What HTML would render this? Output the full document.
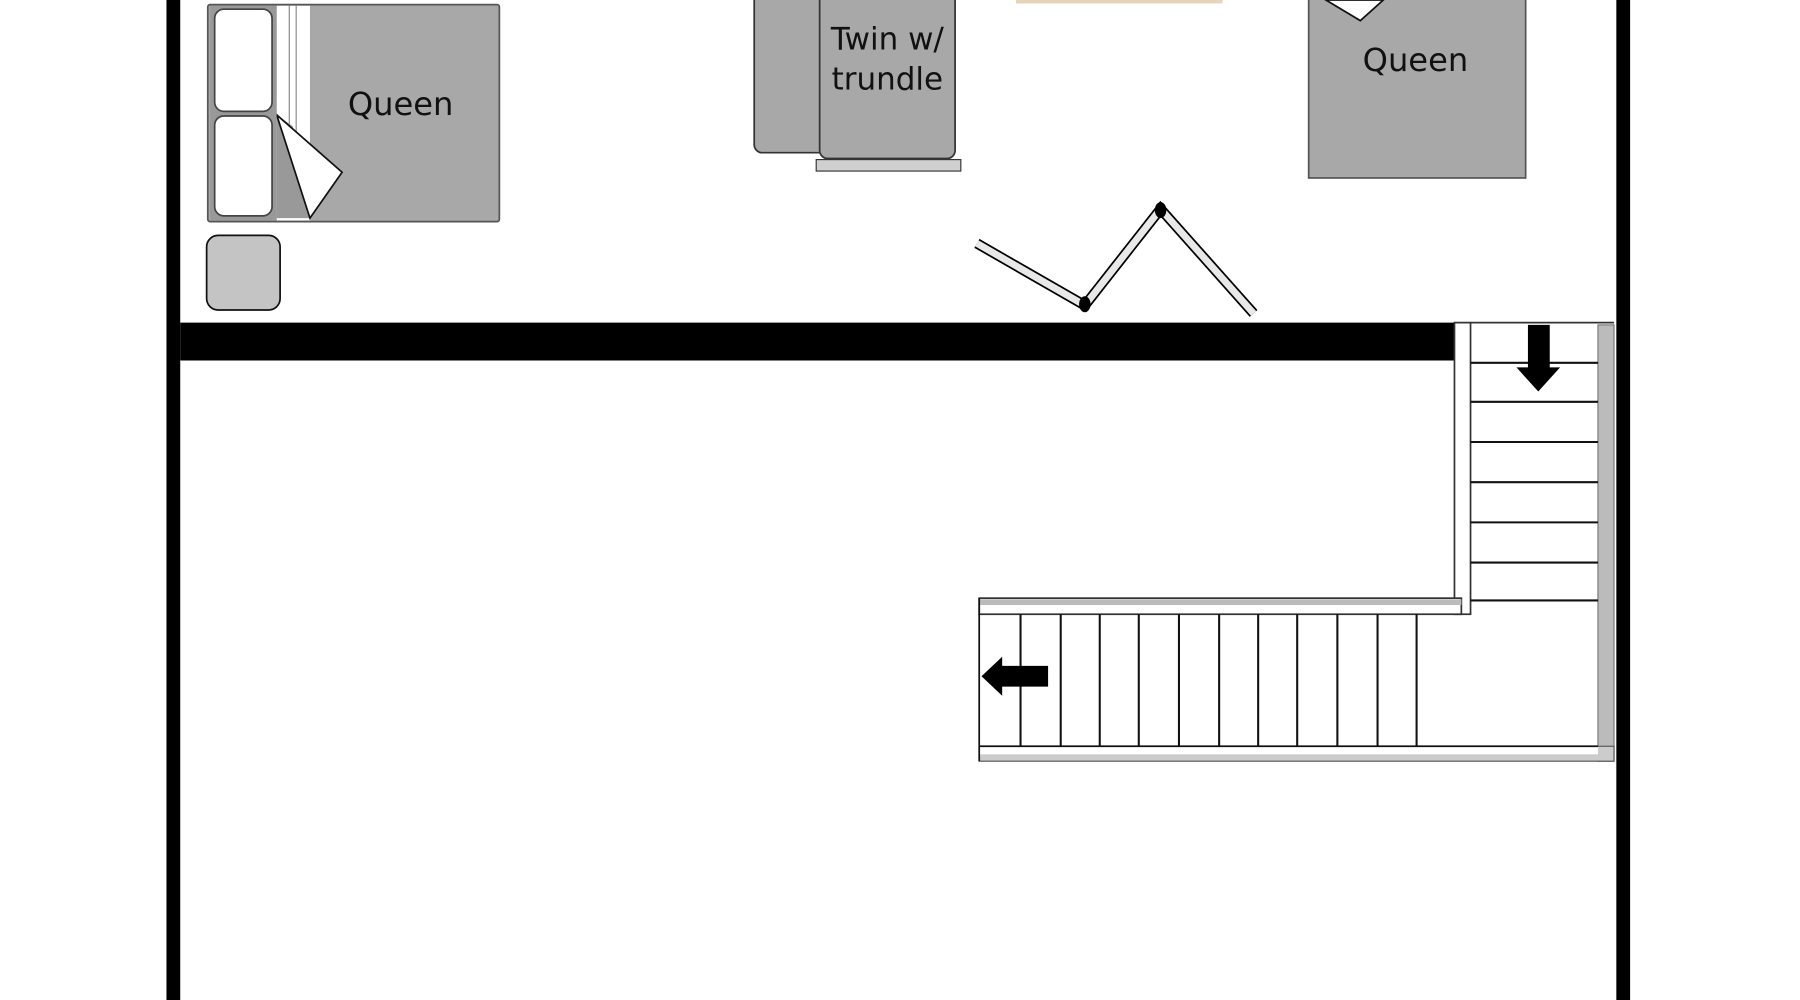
<!DOCTYPE html>
<html><head><meta charset="utf-8"><style>
html,body{margin:0;padding:0;background:#fff;width:1800px;height:1000px;overflow:hidden}
svg{display:block}
text{font-family:"DejaVu Sans","Liberation Sans",sans-serif;fill:#111}
</style></head><body>
<svg width="1800" height="1000" viewBox="0 0 1568 871" preserveAspectRatio="none" xmlns="http://www.w3.org/2000/svg">
<rect width="1568" height="871" fill="#fff"/>
<!-- walls -->
<rect x="145" y="0" width="12" height="871" fill="#000"/>
<rect x="1408" y="0" width="12" height="871" fill="#000"/>
<rect x="157" y="281" width="1110" height="33" fill="#000"/>
<!-- left queen -->
<rect x="181" y="4" width="254" height="189" fill="#a8a8a8" stroke="#555" stroke-width="1.5" rx="2"/>
<rect x="241" y="5" width="29" height="187" fill="#fff"/>
<line x1="252" y1="5" x2="252" y2="110" stroke="#888" stroke-width="1"/>
<line x1="258" y1="5" x2="258" y2="115" stroke="#888" stroke-width="1"/>
<polygon points="241,100 255,110 270,190 241,190" fill="#999"/>
<polygon points="241,100 298,150 270,190" fill="#fff" stroke="#111" stroke-width="1.5"/>
<rect x="183" y="5" width="58" height="187" fill="#999"/>
<rect x="187" y="8" width="50" height="89" rx="8" fill="#fff" stroke="#444" stroke-width="1.5"/>
<rect x="187" y="101" width="50" height="87" rx="8" fill="#fff" stroke="#444" stroke-width="1.5"/>
<text x="349" y="100" font-size="28" text-anchor="middle">Queen</text>
<rect x="180" y="205" width="64" height="65" rx="10" fill="#c4c4c4" stroke="#111" stroke-width="1.5"/>
<!-- twin -->
<rect x="657" y="-10" width="70" height="143" rx="7" fill="#a8a8a8" stroke="#333" stroke-width="1.5"/>
<rect x="714" y="-10" width="118" height="148" rx="7" fill="#a8a8a8" stroke="#333" stroke-width="1.5"/>
<rect x="711" y="139" width="126" height="10" fill="#d0d0d0" stroke="#333" stroke-width="1"/>
<text x="773" y="43" font-size="27" text-anchor="middle">Twin w/</text>
<text x="773" y="78" font-size="27" text-anchor="middle">trundle</text>
<rect x="885" y="0" width="180" height="3" fill="#e8d4b8"/>
<!-- right queen -->
<rect x="1140" y="-5" width="189" height="160" fill="#a8a8a8" stroke="#555" stroke-width="1.5"/>
<polygon points="1155,0 1185,18 1205,0" fill="#fff" stroke="#111" stroke-width="1.5"/>
<text x="1233" y="62" font-size="28" text-anchor="middle">Queen</text>
<!-- folding door -->
<polyline points="851,212 945,266 1011,182 1092,273" fill="none" stroke="#000" stroke-width="9" stroke-linejoin="miter"/>
<polyline points="851,212 945,266 1011,182 1092,273" fill="none" stroke="#e8e8e8" stroke-width="6"/>
<ellipse cx="945" cy="265" rx="5" ry="7" fill="#000"/>
<ellipse cx="1011" cy="183" rx="5" ry="7" fill="#000"/>
<!-- vertical stair flight -->
<rect x="1392" y="283" width="14" height="380" fill="#bbb" stroke="#777" stroke-width="1"/>
<rect x="1267" y="281" width="14" height="254" fill="#fff" stroke="#333" stroke-width="1.5"/>
<line x1="1281" y1="281" x2="1406" y2="281" stroke="#333" stroke-width="1.5"/>
<g stroke="#111" stroke-width="1.8">
<line x1="1281" y1="316" x2="1392" y2="316"/><line x1="1281" y1="350" x2="1392" y2="350"/>
<line x1="1281" y1="385" x2="1392" y2="385"/><line x1="1281" y1="420" x2="1392" y2="420"/>
<line x1="1281" y1="455" x2="1392" y2="455"/><line x1="1281" y1="490" x2="1392" y2="490"/>
<line x1="1281" y1="523" x2="1392" y2="523"/>
</g>
<polygon points="1331,283 1350,283 1350,320 1359,320 1340,341 1321,320 1331,320" fill="#000"/>
<!-- horizontal flight -->
<rect x="853" y="521" width="420" height="14" fill="#fff" stroke="#333" stroke-width="1.5"/>
<rect x="853" y="522" width="420" height="5" fill="#bbb"/>
<rect x="853" y="650" width="553" height="13" fill="#ccc" stroke="#555" stroke-width="1"/>
<rect x="853" y="650" width="539" height="7" fill="#fff"/>
<line x1="853" y1="650" x2="1392" y2="650" stroke="#111" stroke-width="1.5"/>
<line x1="853" y1="521" x2="853" y2="663" stroke="#111" stroke-width="1.5"/>
<g stroke="#111" stroke-width="1.8">
<line x1="889" y1="535" x2="889" y2="650"/><line x1="924" y1="535" x2="924" y2="650"/>
<line x1="958" y1="535" x2="958" y2="650"/><line x1="992" y1="535" x2="992" y2="650"/>
<line x1="1027" y1="535" x2="1027" y2="650"/><line x1="1062" y1="535" x2="1062" y2="650"/>
<line x1="1096" y1="535" x2="1096" y2="650"/><line x1="1130" y1="535" x2="1130" y2="650"/>
<line x1="1165" y1="535" x2="1165" y2="650"/><line x1="1200" y1="535" x2="1200" y2="650"/>
<line x1="1234" y1="535" x2="1234" y2="650"/>
</g>
<polygon points="855,589 873,572 873,580 913,580 913,598 873,598 873,606" fill="#000"/>
</svg>
</body></html>
